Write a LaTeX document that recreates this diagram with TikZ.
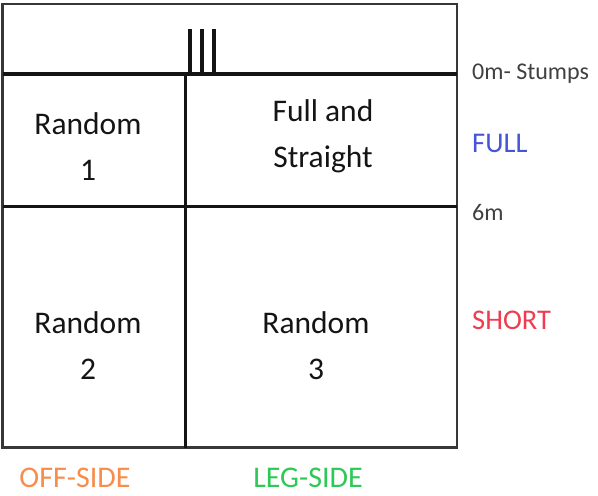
\documentclass[tikz,border=0pt]{standalone}
\usepackage{fontspec}
\setmainfont{Carlito}
\usetikzlibrary{positioning}
\definecolor{ink}{RGB}{20, 20, 20}
\definecolor{grey}{RGB}{64, 64, 64}
\definecolor{fullc}{RGB}{70, 85, 215}
\definecolor{shortc}{RGB}{238, 60, 80}
\definecolor{offc}{RGB}{248, 140, 75}
\definecolor{legc}{RGB}{45, 200, 85}

\begin{document}
\begin{tikzpicture}[x=1pt, y=-1pt,
    zone/.style={align=center, text=ink, font=\fontsize{31.5}{46}\selectfont},
    dist/.style={anchor=west, text=grey, font=\fontsize{24}{26}\selectfont, inner sep=0pt},
    band/.style={anchor=west, text=#1, font=\fontsize{28.5}{30}\selectfont, inner sep=0pt},
    side/.style={text=#1, font=\fontsize{30}{32}\selectfont, inner sep=0pt}
]
\useasboundingbox (0,0) rectangle (598,496);
% pitch
\draw[line width=2.6pt, ink!85] (2.5,4) rectangle (457,447.5);
\draw[line width=3.2pt, ink] (2.5,74) -- (457,74);
\draw[line width=3.2pt, ink] (2.5,206.5) -- (457,206.5);
\draw[line width=3.2pt, ink] (185.5,74) -- (185.5,447.5);
% stumps
\foreach \sx in {190,202,214}
  \draw[line width=3.6pt, ink] (\sx,29) -- (\sx,74);

\node[zone] (r1) at (88,147) {Random\\1};
\node[zone] (fs) at (323,136) {Full and\\Straight};
\node[zone] (r2) at (88,346) {Random\\2};
\node[zone] (r3) at (316,346) {Random\\3};

\node[dist] (zero) at (472,74) {0m- Stumps};
\node[band=fullc] (full) at (472,143) {FULL};
\node[dist] (six) at (472,212) {6m};
\node[band=shortc] (short) at (472,320) {SHORT};

\node[side=offc] (off) at (75,478) {OFF-SIDE};
\node[side=legc] (leg) at (308,478) {LEG-SIDE};
\end{tikzpicture}
\end{document}
